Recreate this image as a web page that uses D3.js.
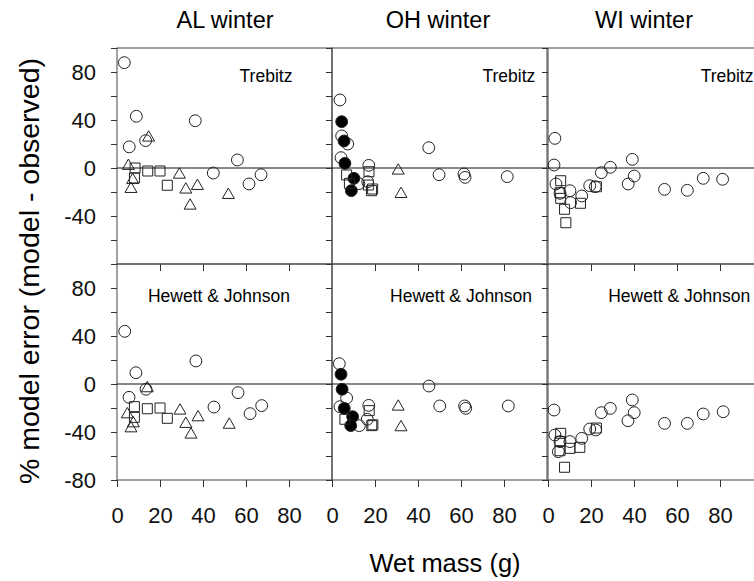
<!DOCTYPE html>
<html lang="en">
<head>
<meta charset="UTF-8" />
<title>% model error vs wet mass</title>
<script src="https://d3js.org/d3.v7.min.js"></script>
<style>
  body { margin: 0; background: white; }
  svg { display: block; font-family: "Liberation Sans", Arial, sans-serif; }
  .frame { fill: none; stroke: #444; stroke-width: 1; }
  .zero { stroke: #111; stroke-width: 1; }
  .tick line { stroke: #333; }
</style>
</head>
<body>
<svg width="754" height="581"></svg>
<script>
const sites = ["AL winter", "OH winter", "WI winter"];
const models = ["Trebitz", "Hewett & Johnson"];
const xTicks = [0, 20, 40, 60, 80];
const yTickLabels = [80, 40, 0, -40, -80];

// [wet mass (g), % error, marker]  o open circle, f filled circle, t triangle, s square
const alTrebitz = [
  [3.4, 87.8, "o"], [9.0, 43.1, "o"], [13.3, 22.8, "o"], [5.7, 17.6, "o"], [36.4, 39.4, "o"],
  [56.0, 6.7, "o"], [44.8, -4.2, "o"], [61.4, -13.3, "o"], [67.0, -5.6, "o"],
  [14.7, 25.3, "t"], [5.3, 1.7, "t"], [7.3, -10, "t"], [6.5, -17.5, "t"], [29, -5.6, "t"],
  [32, -18, "t"], [37.4, -15, "t"], [34, -31.4, "t"], [51.8, -22.5, "t"],
  [8.4, 0, "s"], [8.1, -8.3, "s"], [14.3, -2.5, "s"], [20, -2.5, "s"], [23.4, -14.4, "s"]
];
const alHewett = [
  [3.6, 43.9, "o"], [8.8, 9.4, "o"], [36.7, 19.2, "o"], [5.6, -11.1, "o"], [13.5, -4.4, "o"],
  [45.1, -19.2, "o"], [56.3, -7.2, "o"], [61.9, -24.7, "o"], [67.3, -18, "o"],
  [14.1, -3.6, "t"], [4.8, -25.3, "t"], [7.6, -32.8, "t"], [6.5, -37, "t"], [29.3, -22.2, "t"],
  [32, -33.3, "t"], [37.7, -27.8, "t"], [34.4, -42.2, "t"], [52.2, -34, "t"],
  [8.1, -18.9, "s"], [8.1, -27.8, "s"], [14.1, -20.6, "s"], [20, -20, "s"], [23.4, -28.6, "s"]
];
const ohTrebitz = [
  [3.7, 56.7, "o"], [4.5, 26.7, "o"], [7.3, 20, "o"], [4.2, 8.6, "o"], [45, 16.9, "o"],
  [49.8, -5.6, "o"], [61.4, -5, "o"], [61.9, -7.8, "o"], [81.5, -7.2, "o"], [17.1, 2.2, "o"],
  [16.6, -11.4, "o"], [12.5, -13, "o"],
  [4.5, 38.6, "f"], [5.6, 22.5, "f"], [6.0, 3.9, "f"], [10.2, -8.6, "f"], [9.0, -18.9, "f"],
  [30.8, -2.2, "t"], [32.1, -21.7, "t"],
  [6.8, -5.8, "s"], [8.1, -12.8, "s"], [17.2, -3.1, "s"], [16.9, -14.2, "s"], [18.9, -17.5, "s"],
  [18.4, -18.9, "s"]
];
const ohHewett = [
  [3.4, 16.9, "o"], [45.1, -1.7, "o"], [6.8, -11.7, "o"], [3.7, -18.9, "o"], [17.1, -17.8, "o"],
  [50.1, -18.3, "o"], [61.7, -18.3, "o"], [62.2, -20.3, "o"], [82, -18.3, "o"], [16.4, -29.4, "o"],
  [12.7, -34.7, "o"],
  [4.2, 8.1, "f"], [4.7, -4.4, "f"], [5.7, -20.3, "f"], [9.6, -27.2, "f"], [8.7, -34.7, "f"],
  [30.8, -18.9, "t"], [32.1, -36.1, "t"],
  [6.0, -29.4, "s"], [17.3, -22.2, "s"], [18.5, -34.7, "s"], [19, -34, "s"]
];
const wiTrebitz = [
  [3.2, 24.7, "o"], [2.8, 2.5, "o"], [3.7, -13.3, "o"], [10.2, -18.9, "o"], [10.5, -28.9, "o"],
  [15.7, -23.3, "o"], [19.4, -14.7, "o"], [22, -15.6, "o"], [24.8, -3.9, "o"], [29, 0.6, "o"],
  [39.2, 7.2, "o"], [40.1, -6.7, "o"], [37.3, -13.3, "o"], [54.2, -17.8, "o"], [64.8, -18.6, "o"],
  [72.2, -8.6, "o"], [81.2, -9.4, "o"], [5.6, -21.1, "o"],
  [5.9, -10.6, "s"], [5.6, -20.6, "s"], [5.9, -25.3, "s"], [7.7, -34.4, "s"], [8.3, -45.6, "s"],
  [15.1, -29.4, "s"], [22.5, -15.6, "s"]
];
const wiHewett = [
  [2.8, -21.7, "o"], [24.8, -23.9, "o"], [29, -20.3, "o"], [39.2, -13.3, "o"], [40.1, -23.9, "o"],
  [37.2, -30.6, "o"], [54.2, -32.8, "o"], [64.8, -32.8, "o"], [72.2, -25, "o"], [81.5, -23.1, "o"],
  [19.4, -37.5, "o"], [22.2, -38.3, "o"], [15.7, -45.3, "o"], [10.2, -48, "o"], [3.2, -42.5, "o"],
  [4.8, -56.4, "o"], [5.6, -48, "o"],
  [5.9, -41.1, "s"], [5.6, -48, "s"], [10.2, -53.6, "s"], [14.8, -52.8, "s"], [5.6, -55.6, "s"],
  [7.7, -69.4, "s"], [22.5, -36.7, "s"]
];

const panelData = [
  [alTrebitz, ohTrebitz, wiTrebitz],
  [alHewett, ohHewett, wiHewett]
];

// layout
const panelLeft = [117, 332, 548];
const panelTop = [48, 264];
const panelW = 215, panelH = 216;
const titleX = [225, 438, 644];
const labelPos = [
  [[57, 71.7], [70, 71.7], [71, 71.7]],
  [[14.4, 68.3], [27, 68.3], [28, 68.3]]
];

const svg = d3.select("svg");

const x = d3.scaleLinear().domain([0, 100]).range([0, panelW]);
const y = d3.scaleLinear().domain([-80, 100]).range([panelH, 0]);

const symbolFor = {
  o: d3.symbol().type(d3.symbolCircle).size(110),
  f: d3.symbol().type(d3.symbolCircle).size(110),
  t: d3.symbol().type(d3.symbolTriangle).size(62),
  s: d3.symbol().type(d3.symbolSquare).size(100)
};

// site titles
svg.selectAll(".site")
  .data(sites)
  .enter()
  .append("text")
  .attr("class", "site")
  .attr("x", (d, i) => titleX[i])
  .attr("y", 28)
  .attr("text-anchor", "middle")
  .attr("font-size", 23.5)
  .text(d => d);

panelData.forEach((row, r) => {
  row.forEach((points, c) => {
    const g = svg.append("g")
      .attr("transform", `translate(${panelLeft[c]},${panelTop[r]})`);

    g.append("rect")
      .attr("class", "frame")
      .attr("width", panelW)
      .attr("height", panelH);

    // left axis: ticks every 20, labels only on the first column
    const yAxis = d3.axisLeft(y)
      .tickValues(d3.range(-80, 101, 20))
      .tickSizeInner(6)
      .tickSizeOuter(0)
      .tickPadding(15)
      .tickFormat(d => (c === 0 && yTickLabels.includes(d) && !(r === 0 && d === -80)) ? d : "");
    const ya = g.append("g").call(yAxis);
    ya.select(".domain").remove();
    ya.selectAll("text").attr("font-size", 22).attr("fill", "#111");

    // bottom axis
    const xAxis = d3.axisBottom(x)
      .tickValues(r === 1 ? xTicks : xTicks.slice(1))
      .tickSizeInner(7)
      .tickSizeOuter(0)
      .tickPadding(20)
      .tickFormat(d => r === 1 ? d : "");
    const xa = g.append("g")
      .attr("transform", `translate(0,${panelH})`)
      .call(xAxis);
    xa.select(".domain").remove();
    xa.selectAll("text").attr("font-size", 22).attr("fill", "#111");

    // zero line
    g.append("line")
      .attr("class", "zero")
      .attr("x1", 0)
      .attr("x2", panelW)
      .attr("y1", y(0))
      .attr("y2", y(0));

    // model label
    g.append("text")
      .attr("x", x(labelPos[r][c][0]))
      .attr("y", y(labelPos[r][c][1]))
      .attr("font-size", 17.5)
      .text(models[r]);

    // points
    g.selectAll("path.pt")
      .data(points)
      .enter()
      .append("path")
      .attr("class", "pt")
      .attr("transform", d => `translate(${x(d[0])},${y(d[1])})`)
      .attr("d", d => symbolFor[d[2]]())
      .attr("fill", d => d[2] === "f" ? "#000" : "none")
      .attr("stroke", "#222")
      .attr("stroke-width", 1);
  });
});

// axis titles
svg.append("text")
  .attr("transform", "translate(39,271) rotate(-90)")
  .attr("text-anchor", "middle")
  .attr("font-size", 28.5)
  .text("% model error (model - observed)");

svg.append("text")
  .attr("x", 445)
  .attr("y", 572)
  .attr("text-anchor", "middle")
  .attr("font-size", 25.5)
  .text("Wet mass (g)");
</script>
</body>
</html>
